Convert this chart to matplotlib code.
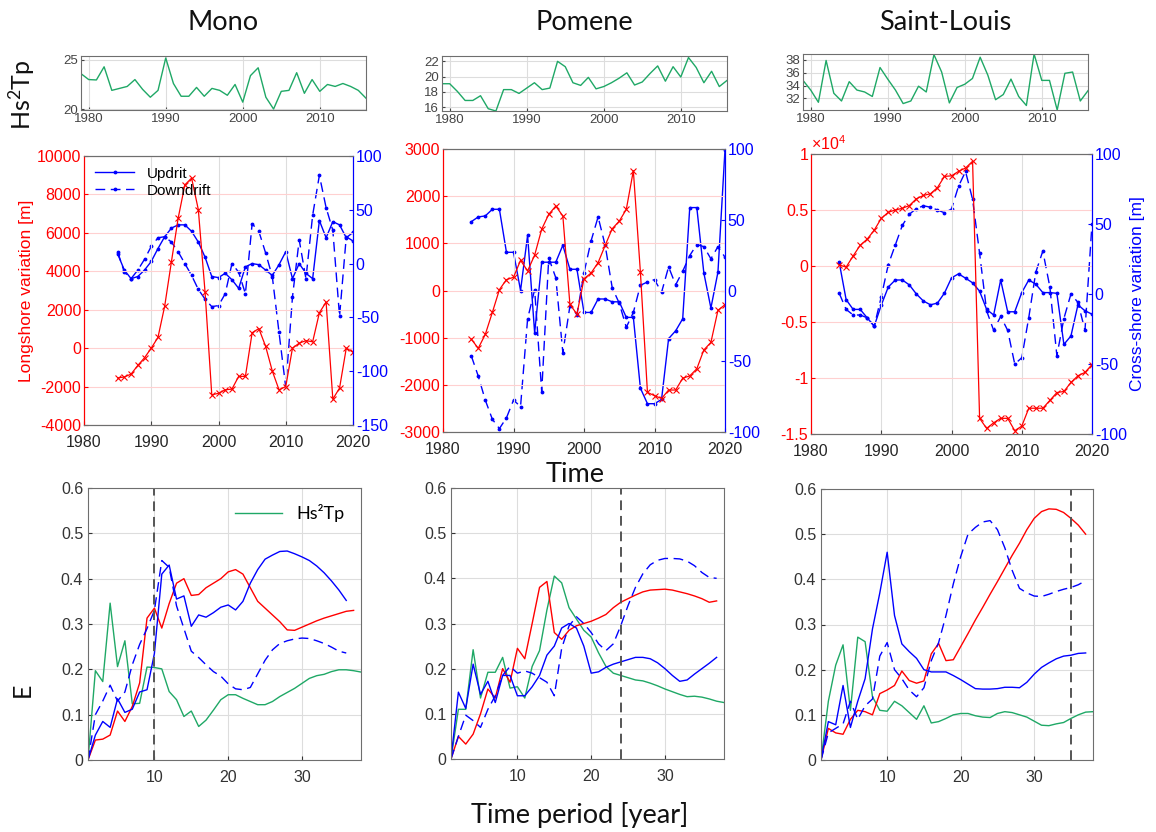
"""
Shoreline / wave energy figure: Mono, Pomene, Saint-Louis.
Top: Hs^2Tp yearly series. Middle: longshore (red) and cross-shore (blue)
shoreline variation. Bottom: E against time period length.
"""

import matplotlib.pyplot as plt
import numpy as np

plt.rcParams['font.family'] = ['Liberation Sans', 'DejaVu Sans']
plt.rcParams['axes.unicode_minus'] = False
plt.rcParams['mathtext.default'] = 'regular'

W, H = 1156, 832
RED = '#ff0000'
BLUE = '#0000ff'
GREEN = '#1fa866'
EDGE = '#6e6e6e'
TXT = '#262626'
BIG = ['Lato', 'DejaVu Sans']

sites = ['Mono', 'Pomene', 'Saint-Louis']

# ---- Hs^2Tp (1979-2016) ----
years_hs = np.arange(1979, 2017)
hs_mono = [23.6, 23.0, 22.96, 24.3, 21.9, 22.1, 22.3, 23.0, 22.0, 21.2,
           21.9, 25.2, 22.6, 21.3, 21.3, 22.2, 21.3, 22.1, 21.9, 21.4,
           22.5, 20.7, 23.4, 24.2, 21.2, 20.0, 21.8, 21.9, 23.7, 21.6,
           23.0, 21.8, 22.5, 22.3, 22.6, 22.3, 21.9, 21.1]
hs_pomene = [19.07, 19.07, 18.06, 16.88, 16.88, 17.5, 15.8, 15.5, 18.3, 18.3,
             17.8, 18.5, 19.2, 18.3, 18.5, 22.0, 21.3, 19.2, 18.85, 19.9,
             18.4, 18.7, 19.2, 19.8, 20.5, 18.9, 19.3, 20.4, 21.4, 19.4,
             21.3, 19.95, 22.5, 21.2, 19.2, 20.7, 18.7, 19.5]
hs_stlouis = [34.8, 33.3, 31.4, 37.9, 32.8, 31.6, 34.6, 33.3, 33.0, 32.3,
              36.8, 35.0, 33.3, 31.2, 31.6, 33.9, 33.0, 38.8, 36.1, 31.3,
              33.7, 34.2, 35.1, 38.4, 35.6, 31.8, 32.6, 35.0, 32.3, 30.9,
              38.9, 34.8, 34.8, 30.2, 35.9, 36.1, 31.6, 33.2]
hs_ylim = [(19.9, 25.4), (15.5, 22.7), (30.2, 38.9)]
hs_ticks = [[20, 25], [16, 18, 20, 22], [32, 34, 36, 38]]

# ---- shoreline variation ----
years_mono = np.arange(1985, 2021)
long_mono = [-1550, -1500, -1350, -900, -500, 0, 560, 2190, 4500, 6760,
             8500, 8850, 7210, 2920, -2430, -2350, -2170, -2130, -1470, -1470,
             800, 1020, 100, -1190, -2170, -2000, 0, 260, 390, 330,
             1840, 2400, -2650, -2080, 0, -210]
up_mono = [9, -6, -14, -12, -6, 2, 14, 25, 33, 36,
           36, 30, 20, 6, -12, -13, -9, -15, -23, -3,
           0, -1, -6, -11, -1, 11, -14, 0, -9, -14,
           40, 24, 39, 36, 24, 29]
down_mono = [11, -8, -14, -6, 4, 16, 24, 25, 20, 11,
             0, -11, -24, -33, -40, -39, -28, 0, -8, -28,
             37, 30, 10, -12, -64, -115, -31, 22, -14, 45,
             82, 52, 31, -49, 25, 21]

years_pomene = np.arange(1984, 2021)
long_pomene = [-1030, -1225, -930, -465, 18, 230, 280, 640, 415, 750,
               1300, 1615, 1790, 1580, -295, -500, 250, 370, 590, 955,
               1310, 1470, 1720, 2540, 390, -2160, -2230, -2290, -2110, -2110,
               -1860, -1810, -1660, -1260, -1100, -420, -300]
up_pomene = [48.6, 52, 52.7, 57.4, 57.4, 27, 27, 0, 39, -30,
             20, 20, 20, 32, 15, 15, -15.5, -15.5, -6, -6,
             -8, -8, -19, -19, -69, -80, -80, -77, -34, -28.5,
             -20, 58.6, 58.6, 12.4, -12.4, 13, 99.5]
down_pomene = [-46, -60.5, -77.5, -91, -97.6, -90, -77.5, -82, -20, 0.6,
               -71.6, 23, 9, -44, -11, -17, 12.4, 35, 52, 32,
               2, -9, -26, -15.5, 3.7, 6, 7.7, -1.3, 16.7, 4,
               13.6, 24.7, 32.5, 31, 22.4, 31, 23.5]

years_stlouis = np.arange(1984, 2021)
long_stlouis = [100, -100, 900, 1850, 2400, 3200, 4250, 4800, 5000, 5150,
                5400, 6000, 6300, 6450, 7000, 8000, 8050, 8450, 8750, 9350,
                -13600, -14500, -14000, -13600, -13600, -14700, -14300, -12700, -12700, -12700,
                -12000, -11300, -11200, -10400, -9800, -9500, -8800]
up_stlouis = [23, -4, -11, -11, -17, -23, -8, 5, 10, 10,
              6.5, 0, -5, -7.7, -6.5, 0.7, 11.5, 14.4, 11.3, 8,
              2, -11, -15, 10, -12.7, -12.7, 1, 10, 7, 1,
              1, 0.5, -36, -30, -7.7, -12, -14.4]
down_stlouis = [0.7, -11, -15, -15, -17, -23, -2, 21, 35, 49,
                57, 61, 63, 62, 60, 58, 60.7, 77, 87.5, 67.6,
                29, -12, -26, -16, -26, -50, -45.6, -16.8, 15.6, 30.7,
                5, -44, -17.5, 0, -6, -26, 50]

# ---- E against time period ----
period = np.arange(1, 39)

e_green_mono = [0, 0.197, 0.173, 0.346, 0.206, 0.263, 0.124, 0.125, 0.205, 0.204,
                0.201, 0.151, 0.133, 0.096, 0.108, 0.074, 0.088, 0.11, 0.133, 0.144,
                0.144, 0.136, 0.129, 0.122, 0.122, 0.129, 0.14, 0.149, 0.158, 0.169,
                0.18, 0.186, 0.189, 0.195, 0.199, 0.199, 0.197, 0.194]
e_red_mono = [0, 0.044, 0.046, 0.055, 0.108, 0.085, 0.118, 0.17, 0.313, 0.335,
              0.291, 0.345, 0.39, 0.40, 0.363, 0.365, 0.38, 0.39, 0.40, 0.415,
              0.42, 0.41, 0.38, 0.35, 0.335, 0.32, 0.305, 0.287, 0.286, 0.293,
              0.30, 0.307, 0.313, 0.318, 0.323, 0.328, 0.33]
e_up_mono = [0, 0.055, 0.085, 0.072, 0.135, 0.105, 0.112, 0.15, 0.155, 0.235,
             0.41, 0.43, 0.355, 0.362, 0.295, 0.32, 0.315, 0.325, 0.337, 0.342,
             0.331, 0.35, 0.39, 0.42, 0.443, 0.452, 0.46, 0.461, 0.455, 0.448,
             0.44, 0.428, 0.413, 0.395, 0.375, 0.352]
e_down_mono = [0, 0.10, 0.13, 0.165, 0.13, 0.15, 0.21, 0.255, 0.29, 0.33,
               0.44, 0.425, 0.34, 0.29, 0.24, 0.226, 0.21, 0.195, 0.185, 0.168,
               0.157, 0.155, 0.16, 0.19, 0.22, 0.243, 0.257, 0.263, 0.267, 0.269,
               0.268, 0.263, 0.257, 0.249, 0.24, 0.236]

e_green_pomene = [0, 0.11, 0.11, 0.242, 0.135, 0.192, 0.192, 0.225, 0.157, 0.16,
                  0.135, 0.205, 0.24, 0.33, 0.405, 0.39, 0.335, 0.31, 0.285, 0.27,
                  0.235, 0.205, 0.19, 0.185, 0.18, 0.175, 0.173, 0.168, 0.162, 0.155,
                  0.149, 0.143, 0.138, 0.139, 0.137, 0.133, 0.128, 0.125]
e_red_pomene = [0, 0.05, 0.033, 0.055, 0.1, 0.155, 0.135, 0.2, 0.17, 0.245,
                0.222, 0.3, 0.38, 0.393, 0.28, 0.265, 0.285, 0.295, 0.3, 0.305,
                0.312, 0.32, 0.335, 0.347, 0.355, 0.363, 0.37, 0.374, 0.375, 0.376,
                0.374, 0.37, 0.366, 0.361, 0.355, 0.347, 0.35]
e_up_pomene = [0, 0.148, 0.112, 0.21, 0.143, 0.172, 0.125, 0.185, 0.185, 0.14,
               0.14, 0.16, 0.185, 0.23, 0.25, 0.29, 0.3, 0.29, 0.25, 0.19,
               0.193, 0.203, 0.21, 0.215, 0.22, 0.225, 0.225, 0.222, 0.213, 0.2,
               0.185, 0.172, 0.175, 0.188, 0.2, 0.212, 0.225]
e_down_pomene = [0, 0.05, 0.097, 0.085, 0.07, 0.11, 0.14, 0.185, 0.205, 0.19,
                 0.195, 0.19, 0.18, 0.17, 0.14, 0.245, 0.295, 0.315, 0.3, 0.28,
                 0.255, 0.24, 0.255, 0.295, 0.34, 0.38, 0.41, 0.43, 0.44, 0.444,
                 0.444, 0.443, 0.438, 0.428, 0.413, 0.402, 0.4]

e_green_stlouis = [0, 0.13, 0.21, 0.255, 0.11, 0.272, 0.262, 0.14, 0.11, 0.108,
                   0.13, 0.12, 0.105, 0.09, 0.12, 0.082, 0.085, 0.092, 0.1, 0.103,
                   0.103, 0.098, 0.095, 0.094, 0.103, 0.107, 0.105, 0.1, 0.095, 0.086,
                   0.077, 0.076, 0.08, 0.083, 0.092, 0.1, 0.106, 0.107]
e_red_stlouis = [0, 0.07, 0.06, 0.057, 0.09, 0.11, 0.107, 0.1, 0.147, 0.155,
                 0.165, 0.197, 0.176, 0.17, 0.175, 0.235, 0.258, 0.22, 0.222, 0.251,
                 0.28, 0.31, 0.338, 0.367, 0.395, 0.424, 0.453, 0.48, 0.51, 0.535,
                 0.55, 0.556, 0.555, 0.548, 0.535, 0.52, 0.5]
e_up_stlouis = [0, 0.085, 0.078, 0.165, 0.072, 0.13, 0.18, 0.29, 0.37, 0.46,
                0.32, 0.257, 0.24, 0.225, 0.2, 0.195, 0.195, 0.195, 0.187, 0.178,
                0.168, 0.158, 0.157, 0.157, 0.158, 0.161, 0.161, 0.16, 0.172, 0.19,
                0.205, 0.215, 0.224, 0.23, 0.232, 0.236, 0.237]
e_down_stlouis = [0, 0.06, 0.07, 0.08, 0.13, 0.09, 0.12, 0.135, 0.23, 0.26,
                  0.2, 0.18, 0.155, 0.14, 0.16, 0.22, 0.26, 0.32, 0.39, 0.45,
                  0.5, 0.515, 0.527, 0.53, 0.51, 0.47, 0.42, 0.38, 0.37, 0.363,
                  0.362, 0.367, 0.373, 0.378, 0.382, 0.388, 0.397]

threshold = [10, 24, 35]  # grey dashed marker lines in the E panels


def box(x0, y0, x1, y1):
    """pixel box (top-left origin) -> figure fraction rect"""
    return [x0 / W, 1 - y1 / H, (x1 - x0) / W, (y1 - y0) / H]


def style_spines(ax, left=EDGE, right=EDGE):
    ax.spines['top'].set_color(EDGE)
    ax.spines['bottom'].set_color(EDGE)
    ax.spines['left'].set_color(left)
    ax.spines['right'].set_color(right)


def main():
    fig = plt.figure(figsize=(W / 100, H / 100), dpi=100)

    top_boxes = [(81, 56, 366, 110), (442, 56, 727, 111), (803, 54, 1088, 110)]
    mid_boxes = [(84, 156, 353, 425), (443, 149, 725, 432), (811, 154, 1092, 434)]
    bot_boxes = [(88, 488, 361, 760), (451, 488, 724, 759), (821, 489, 1093, 760)]

    hs_all = [hs_mono, hs_pomene, hs_stlouis]

    # Hs^2Tp strips
    for i in range(3):
        ax = fig.add_axes(box(*top_boxes[i]))
        ax.plot(years_hs, hs_all[i], color=GREEN, lw=1.0)
        ax.set_xlim(1979, 2016)
        ax.set_ylim(*hs_ylim[i])
        ax.set_xticks([1980, 1990, 2000, 2010])
        ax.set_yticks(hs_ticks[i])
        ax.grid(True, color='#dddddd', lw=0.8)
        ax.tick_params(direction='in', length=2, labelsize=9.5, colors='#444444', pad=2)
        style_spines(ax)
        fig.text((top_boxes[i][0] + top_boxes[i][2]) / 2 / W, 1 - 22 / H, sites[i],
                 ha='center', va='center', fontsize=19.5, family=BIG, color='#111111')

    # longshore / cross-shore
    mids = [
        (years_mono, long_mono, up_mono, down_mono, (-4000, 10000), np.arange(-4000, 10001, 2000),
         (-150, 100), np.arange(-150, 101, 50)),
        (years_pomene, long_pomene, up_pomene, down_pomene, (-3000, 3000), np.arange(-3000, 3001, 1000),
         (-100, 100), np.arange(-100, 101, 50)),
        (years_stlouis, long_stlouis, up_stlouis, down_stlouis, (-15000, 10000), np.arange(-15000, 10001, 5000),
         (-100, 100), np.arange(-100, 101, 50)),
    ]
    for i, (yrs, lng, up, dn, ylim, yt, ylim2, yt2) in enumerate(mids):
        ax = fig.add_axes(box(*mid_boxes[i]))
        ax.set_zorder(2)
        ax.patch.set_visible(False)
        ax.plot(yrs, lng, color=RED, lw=0.9, marker='x', ms=4.5, mew=0.8)
        ax.set_xlim(1980, 2020)
        ax.set_ylim(*ylim)
        ax.set_xticks([1980, 1990, 2000, 2010, 2020])
        ax.set_yticks(yt)
        if i == 2:
            ax.set_yticklabels(['-1.5', '-1', '-0.5', '0', '0.5', '1'])
            ax.text(0.0, 1.005, r'$\times10^4$', transform=ax.transAxes, color=RED,
                    fontsize=11.5, ha='left', va='bottom')
        ax.xaxis.grid(True, color='#dddddd', lw=0.8)
        ax.yaxis.grid(True, color='#ffd0d0', lw=0.8)
        ax.tick_params(axis='y', colors=RED, labelsize=11.5, direction='in', length=3, pad=2)
        ax.tick_params(axis='x', colors='#444444', labelsize=11.5, direction='in',
                       length=3, pad=7)
        for lab in ax.get_xticklabels():
            lab.set_color(TXT)

        ax2 = ax.twinx()
        ax2.set_zorder(1)
        ax2.plot(yrs, up, color=BLUE, lw=1.0, marker='.', ms=3.5, label='Updrit')
        ax2.plot(yrs, dn, color=BLUE, lw=1.0, ls=(0, (7, 4)), marker='.', ms=3.5,
                 label='Downdrift')
        ax2.set_ylim(*ylim2)
        ax2.set_yticks(yt2)
        ax2.tick_params(axis='y', colors=BLUE, labelsize=11.5, direction='in', length=3, pad=2)
        for a in (ax, ax2):
            style_spines(a, left=RED, right=BLUE)
        if i == 0:
            ax.set_ylabel('Longshore variation [m]', color=RED, fontsize=12.5, labelpad=2)
            # legend on the front axes, using the blue lines
            h, l = ax2.get_legend_handles_labels()
            ax.legend(h, l, loc='upper left', frameon=False, fontsize=11,
                      handlelength=2.6, borderaxespad=0.3, labelspacing=0.2)
        if i == 2:
            ax2.set_ylabel('Cross-shore variation [m]', color=BLUE, fontsize=12.5, labelpad=2)

    # E against period
    bots = [
        (e_green_mono, e_red_mono, e_up_mono, e_down_mono),
        (e_green_pomene, e_red_pomene, e_up_pomene, e_down_pomene),
        (e_green_stlouis, e_red_stlouis, e_up_stlouis, e_down_stlouis),
    ]
    for i, (g, r, u, d) in enumerate(bots):
        ax = fig.add_axes(box(*bot_boxes[i]))
        ax.plot(period[:len(g)], g, color=GREEN, lw=1.0, label='Hs\u00b2Tp')
        ax.plot(period[:len(r)], r, color=RED, lw=1.0)
        ax.plot(period[:len(u)], u, color=BLUE, lw=1.0)
        ax.plot(period[:len(d)], d, color=BLUE, lw=1.0, ls=(0, (7, 4)))
        ax.axvline(threshold[i], color='#555555', lw=1.4, ls=(0, (5, 3)))
        ax.set_xlim(1, 38)
        ax.set_ylim(0, 0.6)
        ax.set_xticks([10, 20, 30])
        ax.set_yticks(np.arange(0, 0.61, 0.1))
        ax.set_yticklabels(['0', '0.1', '0.2', '0.3', '0.4', '0.5', '0.6'])
        ax.grid(True, color='#dddddd', lw=0.8)
        ax.tick_params(direction='in', length=3, labelsize=11.5, colors='#333333')
        ax.tick_params(axis='x', pad=7)
        style_spines(ax)
        if i == 0:
            ax.legend(loc='upper right', frameon=False, handlelength=2.6,
                      prop={'family': BIG, 'size': 13})

    # shared labels
    fig.text(22 / W, 1 - 95 / H, 'Hs$^2$Tp', rotation=90, ha='center', va='center',
             fontsize=18, family=BIG, color='#111111')
    fig.text(22 / W, 1 - 690 / H, 'E', rotation=90, ha='center', va='center',
             fontsize=18, family=BIG, color='#111111')
    fig.text(575 / W, 1 - 474 / H, 'Time', ha='center', va='center',
             fontsize=19.5, family=BIG, color='#111111')
    fig.text(580 / W, 1 - 815 / H, 'Time period [year]', ha='center', va='center',
             fontsize=19.5, family=BIG, color='#111111')

    fig.savefig('out.png', dpi=100)


if __name__ == '__main__':
    main()
